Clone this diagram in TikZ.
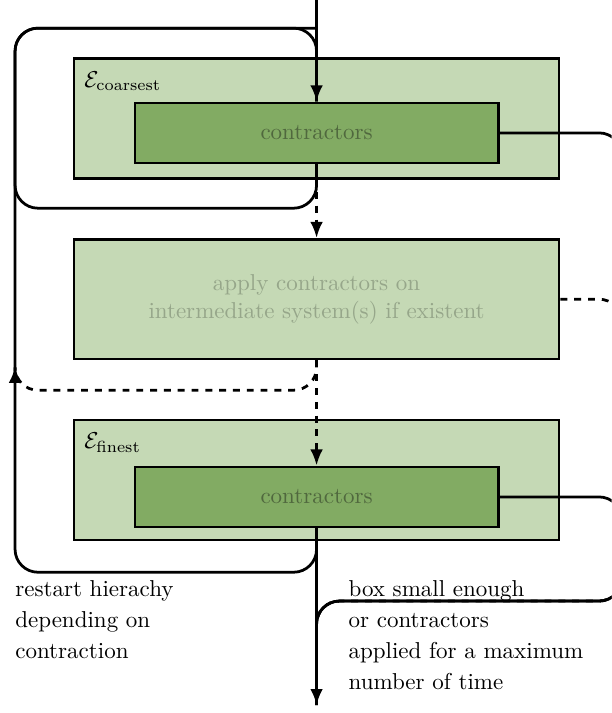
\documentclass[tikz,border=0pt]{standalone}
\usepackage{amsmath, amssymb}
\usepackage{tikz}
\usetikzlibrary{arrows.meta}

\definecolor{levelgreen}{RGB}{197,217,181}
\definecolor{opsgreen}{RGB}{130,171,99}
\definecolor{opstext}{RGB}{80,104,62}
\definecolor{fadedtext}{RGB}{150,166,138}

\begin{document}
\begin{tikzpicture}[
        level/.style={draw, line width=1.1pt, fill=levelgreen, minimum width=7.41cm, minimum height=1.83cm},
        ops/.style={draw, line width=1.1pt, fill=opsgreen, text=opstext, minimum width=5.55cm, minimum height=0.92cm},
        flow/.style={line width=1.2pt, rounded corners=0.35cm},
        tip/.style={-{Latex[length=7pt, width=5.5pt]}},
        note/.style={align=left, anchor=north west, font=\linespread{1.12}\selectfont}]
        \clip (0, 0) rectangle (9.34, -10.89);
        % levels of the hierarchy
        \node[level] (coarse) at (4.835, -1.81) {};
        \node[ops] (coarseOps) at (4.835, -2.03) {contractors};
        \node[level, text=fadedtext, align=center] (inter) at (4.835, -4.57) {apply contractors on\\ intermediate system(s) if existent};
        \node[level] (fine) at (4.835, -7.33) {};
        \node[ops] (fineOps) at (4.835, -7.59) {contractors};
        \node[anchor=north west, inner sep=0pt] (coarseName) at ([shift={(0.17,-0.21)}]coarse.north west) {$\mathcal{E}_{\text{coarsest}}$};
        \node[anchor=north west, inner sep=0pt] (fineName) at ([shift={(0.17,-0.21)}]fine.north west) {$\mathcal{E}_{\text{finest}}$};
        % in and out
        \coordinate (in) at (4.835, 0);
        \coordinate (out) at (4.835, -10.77);
        \draw[flow, tip] (in) -- (coarseOps.north);
        \draw[flow, tip, dashed] (coarseOps.south) -- (inter.north);
        \draw[flow, tip, dashed] (inter.south) -- (fineOps.north);
        \draw[flow, tip] (fineOps.south) -- (out);
        % restart loops on the left
        \draw[flow] (fineOps.south) |- (0.23, -8.74) |- (4.835, -0.43) -- (coarseOps.north);
        \draw[flow] (coarseOps.south) |- (0.23, -3.18) |- (4.835, -0.43);
        \draw[flow, tip, dashed] (inter.south) |- (0.23, -5.96) -- (0.23, -5.6);
        % leaving on the right
        \draw[flow] (coarseOps.east) -| (9.5, -9.18) -| (out);
        \draw[flow, dashed] (inter.east) -| (9.5, -9.18) -| (out);
        \draw[flow] (fineOps.east) -| (9.5, -9.18) -| (out);
        % notes
        \node[note] (restartNote) at (0.11, -8.75) {restart hierachy\\ depending on\\ contraction};
        \node[note] (stopNote) at (5.2, -8.75) {box small enough\\ or contractors\\ applied for a maximum\\ number of time};
\end{tikzpicture}
\end{document}
